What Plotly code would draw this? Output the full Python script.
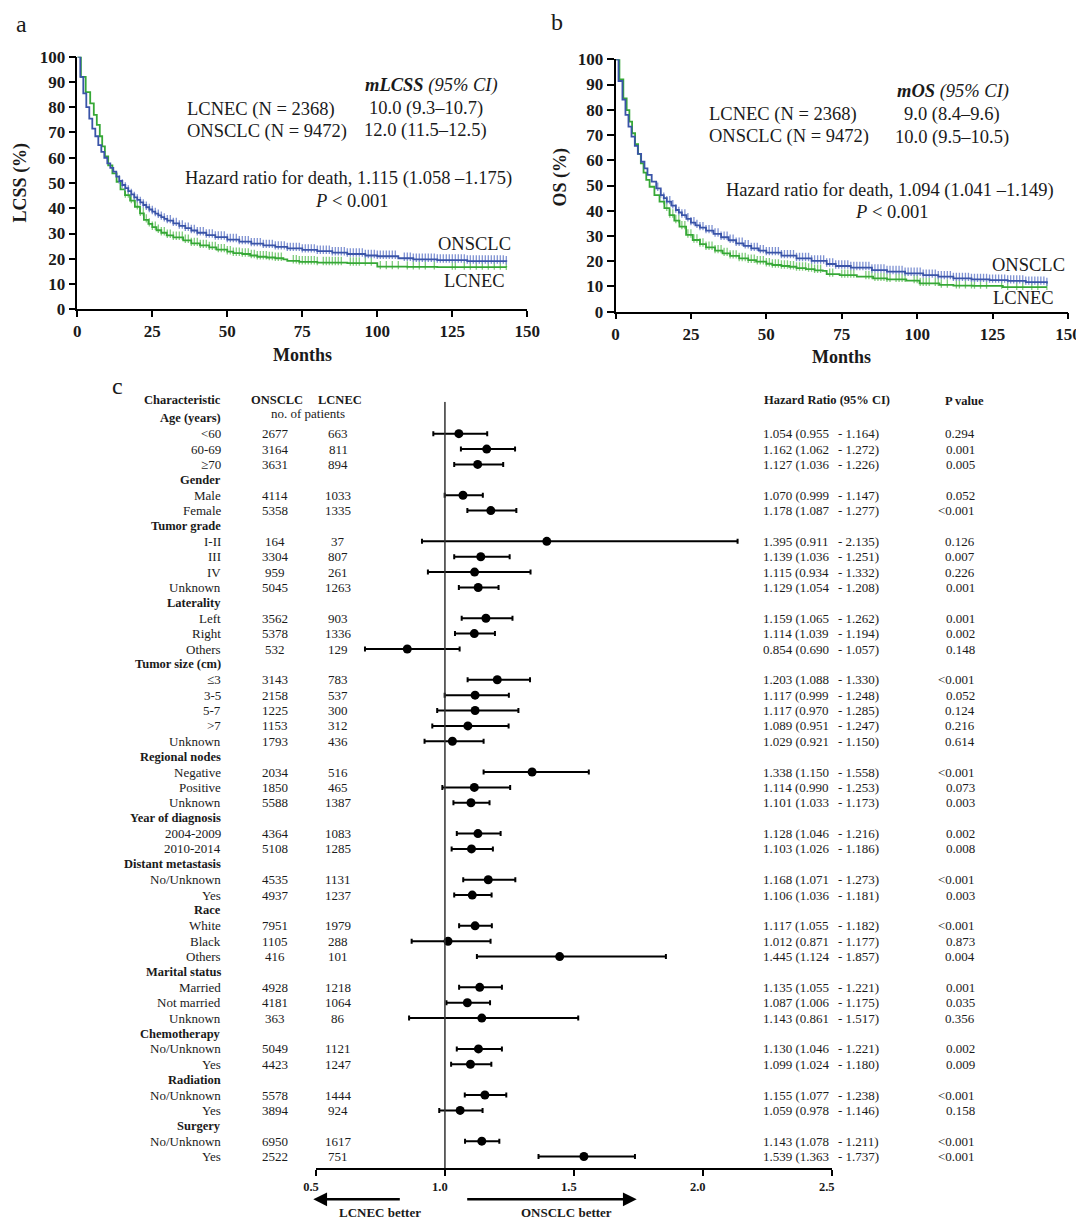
import plotly.graph_objects as go

# The page body has an 8px margin, so the figure is drawn 8px in from the
# window corner; the figure is sized to fill the rest of the 1084x1219 window.
OFF = 8
W, H = 1084 - OFF, 1219 - OFF
SERIF = "Liberation Serif, Times New Roman, Times, serif"
INK = "#1a1a1a"
BLUE, BLUE_T = "#3a54a8", "#7f92d2"
GREEN, GREEN_T = "#36a836", "#80cc7c"

# ---------------- Panel a : LCSS ----------------
lcss_onsclc_t = [0, 1, 2, 3, 4, 5, 6, 7, 8, 9, 10, 11, 12, 13, 14, 15, 16, 17, 18, 19, 20,
                 21, 22, 23, 24, 25, 26, 27, 28, 29, 30, 32, 34, 36, 38, 40, 43, 46, 50, 54,
                 58, 62, 66, 70, 75, 80, 85, 90, 96, 100, 107, 112, 120, 130, 143]
lcss_onsclc_s = [100, 92, 85.5, 80, 75.5, 71.5, 68.5, 65, 62.3, 60, 57.8, 56, 54.5, 52.5, 50.8,
                 49.2, 48, 46.8, 45.5, 44.3, 43.3, 42.3, 41.3, 40.4, 39.5, 38.7, 37.9, 37.2,
                 36.5, 35.8, 35.1, 34.0, 33.0, 32.1, 31.2, 30.3, 29.4, 28.6, 27.6, 26.8, 26.0,
                 25.3, 24.7, 24.1, 23.5, 23.0, 22.4, 21.9, 21.3, 21.0, 20.2, 19.8, 19.5, 19.1, 18.8]
lcss_lcnec_t = [0, 1.2, 2.8, 4.3, 5.5, 6.5, 7.5, 8.3, 9.2, 10.3, 11.7, 13.1, 14.4, 15.9, 17.6,
                19.2, 20.9, 22.2, 23.7, 25, 26.4, 28, 29.8, 32, 35.3, 38, 40.9, 44, 46.4, 50,
                52, 55, 57.6, 60, 63.1, 66, 68.7, 70, 74, 80, 90, 100, 110, 120, 143]
lcss_lcnec_s = [100, 92, 86, 81.5, 77, 73, 68.5, 64.5, 60.5, 57, 53.8, 50.5, 47.5, 45.2, 43,
                40.6, 38, 35.4, 33.8, 32.5, 31.3, 30.3, 29.3, 28.5, 27.3, 26.1, 25.3, 24.5,
                23.6, 22.8, 22.2, 21.9, 21.3, 20.8, 20.5, 20.2, 19.8, 19.2, 18.8, 18.5, 18.3,
                16.9, 16.8, 16.7, 16.6]
lcss_onsclc_cens = [14, 15, 16, 17, 18, 19, 20, 21, 22, 23, 24, 25, 26, 27, 28, 29, 30, 31, 32,
                    33, 34, 35, 36, 37, 38, 39, 40, 41, 42, 43, 44, 45, 46, 47, 48, 49, 50, 51,
                    52, 53, 54, 55, 56, 57, 58, 59, 60, 61, 62, 63, 64, 65, 66, 67, 68, 69, 70,
                    71, 72, 73, 74, 75, 76, 77, 78, 79, 80, 81, 82, 83, 84, 85, 86, 87, 88, 89,
                    90, 91, 92, 93, 94, 95, 96, 97, 98, 99, 100, 101, 102, 103, 104, 105, 106,
                    109, 110, 111, 112, 113, 114, 115, 116, 117, 118, 119, 120, 121, 122, 123,
                    124, 125, 126, 127, 128, 129, 130, 131, 132, 133, 134, 135, 136, 137, 138,
                    139, 140, 141, 142, 143]
lcss_lcnec_cens = [16, 17, 18, 19, 20, 21, 22, 23, 24, 25, 26, 27, 28, 29, 30, 31, 32, 33, 34,
                   35, 36, 37, 38, 39, 40, 41, 42, 43, 44, 45, 46, 47, 48, 49, 50, 51, 52, 53,
                   54, 55, 56, 57, 58, 59, 60, 61, 62, 63, 64, 65, 66, 67, 68, 72, 73, 74, 75,
                   76, 77, 78, 79, 80, 82, 83, 84, 85, 86, 87, 88, 91, 92, 93, 94, 96, 98, 101,
                   103, 105, 107, 110, 112, 114, 116, 119, 125, 126, 129, 131, 133, 135, 137,
                   139, 141, 143]

# ---------------- Panel b : OS ----------------
os_onsclc_t = [0, 1, 2.3, 3.3, 4.3, 5.3, 6.4, 7.4, 8.5, 9.6, 10.6, 12, 13.5, 15, 16, 17, 18.5,
               20, 21, 22, 23.5, 25, 26.5, 28, 30, 32.5, 35, 37.5, 40, 42.5, 45, 47.5, 50, 55,
               60, 65, 70, 73, 78, 85, 90, 96, 102, 107, 112, 118, 124, 130, 136, 143]
os_onsclc_s = [100, 91.4, 84, 78, 73.3, 69.4, 65.7, 62.5, 59.4, 56.8, 54.2, 51.5, 48.9, 46.2,
               45, 43.6, 42, 40.3, 39.3, 38.3, 36.8, 35.3, 34.2, 33.3, 32.1, 30.8, 29.5, 28.3,
               27.1, 26.1, 25.1, 24.2, 23.4, 22.2, 21.1, 20.1, 18.9, 18.1, 17.5, 16.5, 15.9,
               15.2, 14.5, 13.9, 13.2, 12.8, 12.5, 12.2, 11.7, 11.2]
os_lcnec_t = [0, 1.3, 2.6, 3.7, 4.6, 5.5, 6.5, 7.5, 8.4, 9.3, 10.2, 11.3, 12.9, 14.6, 16.2,
              17.9, 19.5, 21.2, 23.4, 25.6, 28, 30, 33, 35.5, 38, 41, 44, 46.6, 50, 52, 55,
              57.6, 60, 63.1, 66, 68.7, 70, 74.3, 80, 85.4, 90, 96.4, 100.8, 107.4, 112, 118.5,
              128.4, 143]
os_lcnec_s = [100, 92, 84.5, 79.9, 75.3, 70.7, 66.4, 62.5, 58.8, 55.1, 52.2, 49.5, 46.2, 43.6,
              41, 38.3, 36.1, 33.7, 30.4, 28.4, 26.8, 25.5, 24.2, 23.1, 22.1, 21.1, 20.4, 19.8,
              19, 18.5, 18.1, 17.8, 17.3, 16.9, 16.4, 16.2, 14.9, 14.5, 13.9, 13.2, 12.8, 12.3,
              11.2, 10.6, 10.3, 10.2, 9.7, 9.7]
os_onsclc_cens = [14, 15, 16, 17, 18, 19, 20, 21, 22, 23, 24, 25, 26, 27, 28, 29, 30, 31, 32,
                  33, 34, 35, 36, 37, 38, 39, 40, 41, 42, 43, 44, 45, 46, 47, 48, 49, 50, 51,
                  52, 53, 54, 55, 56, 57, 58, 59, 60, 61, 62, 63, 64, 65, 66, 67, 68, 69, 70,
                  71, 72, 73, 74, 75, 76, 77, 78, 79, 80, 81, 82, 83, 84, 85, 86, 87, 88, 89,
                  90, 91, 92, 93, 94, 95, 96, 97, 98, 99, 100, 101, 102, 103, 104, 105, 106,
                  107, 108, 109, 110, 111, 112, 113, 114, 115, 116, 117, 118, 119, 120, 121,
                  122, 123, 124, 125, 126, 127, 128, 129, 130, 131, 132, 133, 134, 135, 136,
                  137, 138, 139, 140, 141, 142, 143]
os_lcnec_cens = [16, 17, 18, 19, 20, 21, 22, 23, 24, 25, 26, 27, 28, 29, 30, 31, 32, 33, 34,
                 35, 36, 37, 38, 39, 40, 41, 42, 43, 44, 45, 46, 47, 48, 49, 50, 51, 52, 53,
                 54, 55, 56, 57, 58, 59, 60, 61, 62, 63, 64, 65, 66, 67, 68, 71, 72, 75, 76,
                 77, 78, 79, 83, 84, 85, 86, 87, 88, 89, 90, 91, 93, 94, 95, 96, 99, 100, 101,
                 102, 103, 104, 106, 107, 108, 110, 113, 114, 116, 118, 119, 121, 123, 128,
                 130, 133, 135, 138, 140, 143]

# ---------------- Panel c : forest plot ----------------
group_headers = ["Age (years)", "Gender", "Tumor grade", "Laterality", "Tumor size (cm)",
                 "Regional nodes", "Year of diagnosis", "Distant metastasis", "Race",
                 "Marital status", "Chemotherapy", "Radiation", "Surgery"]
group_sizes = [3, 2, 4, 3, 5, 3, 2, 2, 3, 3, 2, 2, 2]
subgroups = ["<60", "60-69", "≥70", "Male", "Female", "I-II", "III", "IV", "Unknown",
             "Left", "Right", "Others", "≤3", "3-5", "5-7", ">7", "Unknown",
             "Negative", "Positive", "Unknown", "2004-2009", "2010-2014",
             "No/Unknown", "Yes", "White", "Black", "Others", "Married", "Not married",
             "Unknown", "No/Unknown", "Yes", "No/Unknown", "Yes", "No/Unknown", "Yes"]
n_onsclc = [2677, 3164, 3631, 4114, 5358, 164, 3304, 959, 5045, 3562, 5378, 532, 3143, 2158,
            1225, 1153, 1793, 2034, 1850, 5588, 4364, 5108, 4535, 4937, 7951, 1105, 416,
            4928, 4181, 363, 5049, 4423, 5578, 3894, 6950, 2522]
n_lcnec = [663, 811, 894, 1033, 1335, 37, 807, 261, 1263, 903, 1336, 129, 783, 537, 300,
           312, 436, 516, 465, 1387, 1083, 1285, 1131, 1237, 1979, 288, 101, 1218, 1064, 86,
           1121, 1247, 1444, 924, 1617, 751]
hr = [1.054, 1.162, 1.127, 1.070, 1.178, 1.395, 1.139, 1.115, 1.129, 1.159, 1.114, 0.854,
      1.203, 1.117, 1.117, 1.089, 1.029, 1.338, 1.114, 1.101, 1.128, 1.103, 1.168, 1.106,
      1.117, 1.012, 1.445, 1.135, 1.087, 1.143, 1.130, 1.099, 1.155, 1.059, 1.143, 1.539]
ci_low = [0.955, 1.062, 1.036, 0.999, 1.087, 0.911, 1.036, 0.934, 1.054, 1.065, 1.039, 0.690,
          1.088, 0.999, 0.970, 0.951, 0.921, 1.150, 0.990, 1.033, 1.046, 1.026, 1.071, 1.036,
          1.055, 0.871, 1.124, 1.055, 1.006, 0.861, 1.046, 1.024, 1.077, 0.978, 1.078, 1.363]
ci_high = [1.164, 1.272, 1.226, 1.147, 1.277, 2.135, 1.251, 1.332, 1.208, 1.262, 1.194, 1.057,
           1.330, 1.248, 1.285, 1.247, 1.150, 1.558, 1.253, 1.173, 1.216, 1.186, 1.273, 1.181,
           1.182, 1.177, 1.857, 1.221, 1.175, 1.517, 1.221, 1.180, 1.238, 1.146, 1.211, 1.737]
p_values = ["0.294", "0.001", "0.005", "0.052", "<0.001", "0.126", "0.007", "0.226", "0.001",
            "0.001", "0.002", "0.148", "<0.001", "0.052", "0.124", "0.216", "0.614", "<0.001",
            "0.073", "0.003", "0.002", "0.008", "<0.001", "0.003", "<0.001", "0.873", "0.004",
            "0.001", "0.035", "0.356", "0.002", "0.009", "<0.001", "0.158", "<0.001", "<0.001"]
hr_ticks = [0.5, 1.0, 1.5, 2.0, 2.5]

for a, b in [(lcss_onsclc_t, lcss_onsclc_s), (lcss_lcnec_t, lcss_lcnec_s),
             (os_onsclc_t, os_onsclc_s), (os_lcnec_t, os_lcnec_s)]:
    assert len(a) == len(b)
assert len(subgroups) == len(n_onsclc) == len(n_lcnec) == len(hr) == len(ci_low) == len(ci_high) == len(p_values) == sum(group_sizes)


def px(x):
    """window pixel x -> paper fraction"""
    return (x - OFF) / W


def py(y):
    """window pixel y -> paper fraction"""
    return 1 - (y - OFF) / H


def esc(s):
    return s.replace("<", "&lt;").replace(">", "&gt;")


def step_value(ts, ss, t):
    v = ss[0]
    for ti, si in zip(ts, ss):
        if ti <= t:
            v = si
        else:
            break
    return v


# row layout of the forest plot (row index 0 = first header)
row_labels, row_is_header, data_row_idx = [], [], []
k = 0
for gname, gsize in zip(group_headers, group_sizes):
    row_labels.append(gname)
    row_is_header.append(True)
    for _ in range(gsize):
        data_row_idx.append(len(row_labels))
        row_labels.append(subgroups[k])
        row_is_header.append(False)
        k += 1

ROW0, ROWSTEP = 418.3, 15.38
FTOP, FBOT = 401.7, 1168.3
row_range = [(FBOT - ROW0) / ROWSTEP, (FTOP - ROW0) / ROWSTEP]

fig = go.Figure()

# KM curves
panels = [
    ("x", "y", [(lcss_onsclc_t, lcss_onsclc_s, lcss_onsclc_cens, BLUE, BLUE_T),
                (lcss_lcnec_t, lcss_lcnec_s, lcss_lcnec_cens, GREEN, GREEN_T)]),
    ("x2", "y2", [(os_onsclc_t, os_onsclc_s, os_onsclc_cens, BLUE, BLUE_T),
                  (os_lcnec_t, os_lcnec_s, os_lcnec_cens, GREEN, GREEN_T)]),
]
for xa, ya, curves in panels:
    for ts, ss, cens, col, tcol in reversed(curves):
        fig.add_trace(go.Scatter(
            x=cens, y=[step_value(ts, ss, c) + 0.6 for c in cens], mode="markers",
            marker=dict(symbol="line-ns", size=6, line=dict(color=tcol, width=1.3)),
            xaxis=xa, yaxis=ya, showlegend=False, hoverinfo="skip"))
        fig.add_trace(go.Scatter(
            x=ts, y=ss, mode="lines", line=dict(color=col, width=1.8, shape="hv"),
            xaxis=xa, yaxis=ya, showlegend=False))

# forest plot
fig.add_trace(go.Scatter(
    x=hr, y=data_row_idx, mode="markers",
    marker=dict(color="black", size=9, symbol="circle"),
    error_x=dict(type="data", symmetric=False,
                 array=[h - m for h, m in zip(ci_high, hr)],
                 arrayminus=[m - l for m, l in zip(hr, ci_low)],
                 color="black", thickness=2, width=2.5),
    xaxis="x3", yaxis="y3", showlegend=False))

axis_common = dict(showline=True, linecolor="black", linewidth=1.5, ticks="outside",
                   tickcolor="black", tickwidth=1.5, showgrid=False, zeroline=False,
                   automargin=False,
                   tickfont=dict(family=SERIF, size=17, color=INK, weight="bold"))

fig.update_layout(
    width=W, height=H, margin=dict(l=0, r=0, t=0, b=0, pad=0, autoexpand=False),
    paper_bgcolor="white", plot_bgcolor="white", showlegend=False,
    font=dict(family=SERIF, color=INK),
    xaxis=dict(domain=[px(77.3), px(527.3)], range=[0, 150], tickvals=[0, 25, 50, 75, 100, 125, 150],
               ticklen=6, anchor="y", **axis_common),
    yaxis=dict(domain=[py(309.3), py(56.7)], range=[0, 100], dtick=10, ticklen=7,
               anchor="x", **axis_common),
    xaxis2=dict(domain=[px(615.5), px(1068)], range=[0, 150], tickvals=[0, 25, 50, 75, 100, 125, 150],
                ticklen=6, anchor="y2", **axis_common),
    yaxis2=dict(domain=[py(311.7), py(59.3)], range=[0, 100], dtick=10, ticklen=7,
                anchor="x2", **axis_common),
    xaxis3=dict(domain=[px(316), px(831.7)], range=[0.5, 2.5], tickvals=hr_ticks,
                ticktext=[f"{v:.1f}" for v in hr_ticks], ticklen=6, anchor="y3",
                showline=True, linecolor="black", linewidth=1.5, ticks="outside",
                tickcolor="black", tickwidth=1.5, showgrid=False, zeroline=False,
                ticklabelshift=-5, automargin=False,
                tickfont=dict(family=SERIF, size=12.5, color=INK, weight="bold")),
    yaxis3=dict(domain=[py(FBOT), py(FTOP)], range=row_range, visible=False, anchor="x3",
                automargin=False),
)

# vertical reference line at HR = 1
fig.add_shape(type="line", xref="x3", yref="y3", x0=1, x1=1, y0=row_range[1], y1=row_range[0],
              line=dict(color="#333333", width=1.5))

anns = []


def ann(text, x, y, size, xanchor="center", yanchor="middle", bold=False, yref="paper",
        angle=0, color=INK):
    anns.append(dict(text=text, x=x, y=y, xref="paper", yref=yref, xanchor=xanchor,
                     yanchor=yanchor, showarrow=False, textangle=angle,
                     font=dict(family=SERIF, size=size, color=color,
                               weight="bold" if bold else "normal")))


# panel letters
ann("a", px(21.7), py(24.5), 24)
ann("b", px(557), py(22), 24)
ann("c", px(117.7), py(386), 24)

# KM titles and texts
ann("LCSS (%)", px(20.7), py(182.7), 18, bold=True, angle=-90)
ann("OS (%)", px(560.7), py(176.7), 18, bold=True, angle=-90)
ann("Months", px(302.3), py(355), 18, bold=True)
ann("Months", px(841.7), py(357), 18, bold=True)

KM = 18.5
ann("<b><i>mLCSS</i></b><i> (95% CI)</i>", px(431.7), py(85), KM)
ann("LCNEC (N = 2368)", px(185), py(109.3), KM, xanchor="left")
ann("ONSCLC (N = 9472)", px(185), py(131.7), KM, xanchor="left")
ann("10.0 (9.3–10.7)", px(426), py(108.3), KM)
ann("12.0 (11.5–12.5)", px(425.7), py(130.7), KM)
ann("Hazard ratio for death, 1.115 (1.058 –1.175)", px(348.3), py(178.3), KM)
ann("<i>P</i> &lt; 0.001", px(352), py(201), KM)
ann("ONSCLC", px(513), py(244), KM, xanchor="right")
ann("LCNEC", px(507), py(280.7), KM, xanchor="right")

ann("<b><i>mOS</i></b><i> (95% CI)</i>", px(953), py(91.7), KM)
ann("LCNEC (N = 2368)", px(706.7), py(115), KM, xanchor="left")
ann("ONSCLC (N = 9472)", px(706.7), py(136.7), KM, xanchor="left")
ann("9.0 (8.4–9.6)", px(951.7), py(115), KM)
ann("10.0 (9.5–10.5)", px(951.7), py(137.7), KM)
ann("Hazard ratio for death, 1.094 (1.041 –1.149)", px(889.7), py(191), KM)
ann("<i>P</i> &lt; 0.001", px(892), py(211.7), KM)
ann("ONSCLC", px(1066.7), py(265), KM, xanchor="right")
ann("LCNEC", px(1056), py(298.3), KM, xanchor="right")

# forest headers
FS = 13
ann("Characteristic", px(223.3), py(400), 12.5, xanchor="right", bold=True)
ann("ONSCLC", px(277), py(400), 12.5, bold=True)
ann("LCNEC", px(340), py(400), 12.5, bold=True)
ann("no. of patients", px(308.3), py(414), FS)
ann("Hazard Ratio (95% CI)", px(761.7), py(400), 12.5, xanchor="left", bold=True)
ann("P value", px(964), py(400.7), 12.5, bold=True)

for i, (lab, is_h) in enumerate(zip(row_labels, row_is_header)):
    ann(esc(lab), px(223.3), i, 12.5 if is_h else FS, xanchor="right", bold=is_h, yref="y3")

for j, ri in enumerate(data_row_idx):
    ann(str(n_onsclc[j]), px(275), ri, FS, yref="y3")
    ann(str(n_lcnec[j]), px(338), ri, FS, yref="y3")
    ann(f"{hr[j]:.3f} ({ci_low[j]:.3f}", px(761), ri, FS, xanchor="left", yref="y3")
    ann(f"- {ci_high[j]:.3f})", px(836), ri, FS, xanchor="left", yref="y3")
    ann(esc(p_values[j]), px(977), ri, FS, xanchor="right", yref="y3")

# favour arrows
anns.append(dict(x=px(313.3), y=py(1199.3), xref="paper", yref="paper", text="",
                 showarrow=True, ax=88, ay=0, arrowhead=2, arrowsize=1.1, arrowwidth=2.5,
                 arrowcolor="black"))
anns.append(dict(x=px(636.7), y=py(1199.3), xref="paper", yref="paper", text="",
                 showarrow=True, ax=-171, ay=0, arrowhead=2, arrowsize=1.1, arrowwidth=2.5,
                 arrowcolor="black"))
ann("LCNEC better", px(380), py(1212.7), 13, bold=True)
ann("ONSCLC better", px(566.7), py(1212.7), 13, bold=True)

fig.update_layout(annotations=anns)
fig.write_html("out.html")
